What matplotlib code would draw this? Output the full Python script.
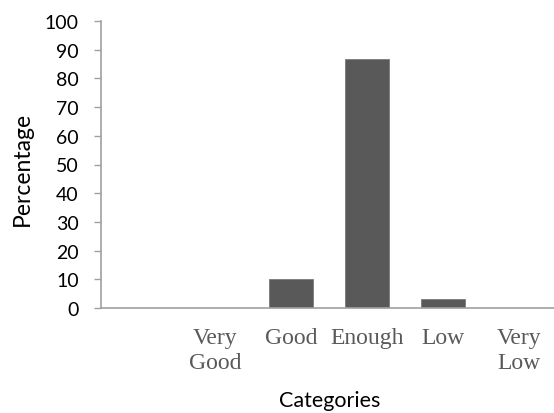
import matplotlib
matplotlib.use('Agg')
import matplotlib.pyplot as plt

# survey results, percent of respondents per category
categories = ['', 'Very\nGood', 'Good', 'Enough', 'Low', 'Very\nLow']
percent = [0, 0, 10.0, 86.7, 3.3, 0]
yticks = list(range(0, 101, 10))

sans = ['Lato', 'DejaVu Sans']
serif = ['Liberation Serif', 'DejaVu Serif']

fig = plt.figure(figsize=(5.54, 4.14), dpi=100)
W, H = 554, 414
ax = fig.add_axes([101 / W, 1 - 309 / H, 456 / W, 287 / H])

x = range(len(categories))
ax.bar(x, percent, width=0.58, color='#595959', edgecolor='#7a7a7a', linewidth=0.6, zorder=2)

ax.set_xlim(-0.5, len(categories) - 0.5)
ax.set_ylim(0, 100)
ax.set_yticks(yticks)
ax.set_yticklabels([str(t) for t in yticks], family=sans, fontsize=14)
ax.set_xticks(list(x))
ax.set_xticklabels(categories, family=serif, fontsize=17, color='#595959', linespacing=1.2, va='top')

for s in ['top', 'right']:
    ax.spines[s].set_visible(False)
for s in ['left', 'bottom']:
    ax.spines[s].set_color('#a0a0a0')
    ax.spines[s].set_linewidth(1.2)
ax.tick_params(axis='y', direction='out', length=5, width=1, color='#a0a0a0', pad=11)
ax.tick_params(axis='x', length=0, pad=14)

fig.text(22 / W, 1 - 169 / H, 'Percentage', rotation=90, ha='center', va='center',
         family=sans, fontsize=16.5)
fig.text(330 / W, 1 - 407 / H, 'Categories', ha='center', va='baseline',
         family=sans, fontsize=15.5)

fig.savefig('out.png', dpi=100)
